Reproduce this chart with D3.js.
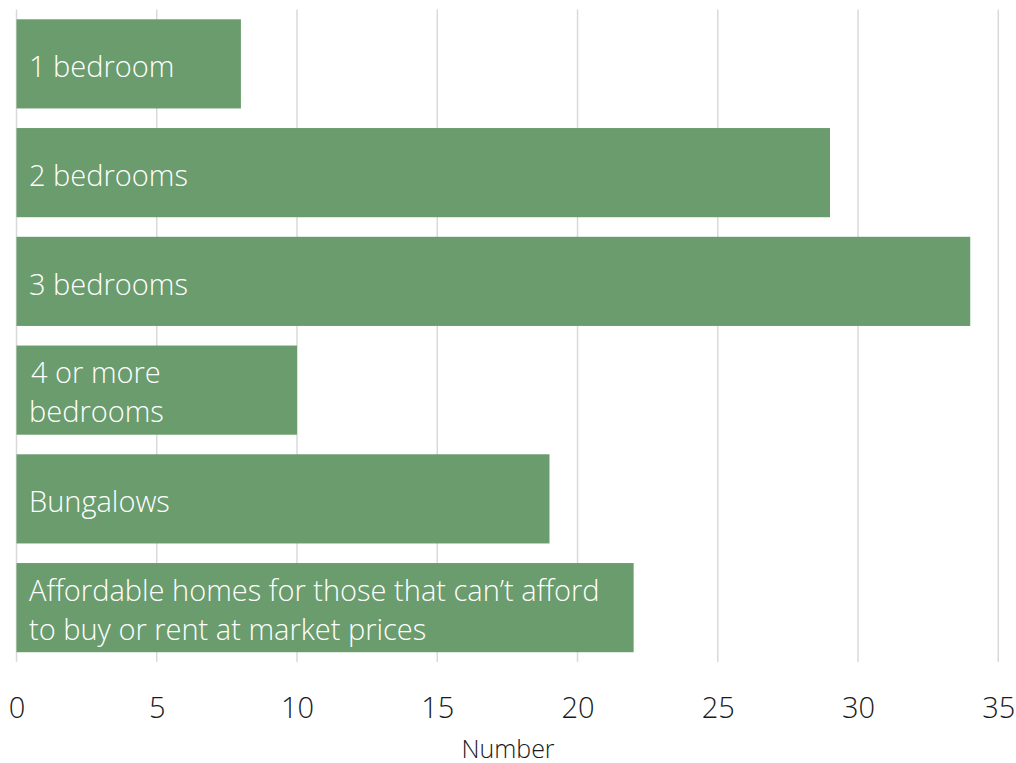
<!DOCTYPE html>
<html>
<head>
<meta charset="utf-8">
<script src="https://cdn.jsdelivr.net/npm/d3@7"></script>
<style>
  html, body { margin: 0; padding: 0; background: #fff; }
  svg { display: block; font-family: "Open Sans", Lato, sans-serif; }
</style>
</head>
<body>
<svg id="chart" width="1016" height="763"></svg>
<script>
// Housing types needed (number of homes)
const categories = [
  ["1 bedroom"],
  ["2 bedrooms"],
  ["3 bedrooms"],
  ["4 or more", "bedrooms"],
  ["Bungalows"],
  ["Affordable homes for those that can\u2019t afford", "to buy or rent at market prices"]
];
const values = [8, 29, 34, 10, 19, 22];
const xTicks = [0, 5, 10, 15, 20, 25, 30, 35];
const xTitle = "Number";

(function draw() {
  const svg = d3.select("#chart");
  const plotLeft = 16.5, plotRight = 998.3, plotTop = 9.5, plotBottom = 662;

  const x = d3.scaleLinear().domain([0, 35]).range([plotLeft, plotRight]);
  const y = d3.scaleBand()
    .domain(d3.range(categories.length))
    .range([plotTop, plotBottom])
    .paddingInner(0.18)
    .paddingOuter(0.09);

  // vertical gridlines
  svg.append("g")
    .selectAll("line")
    .data(xTicks)
    .join("line")
    .attr("x1", d => x(d)).attr("x2", d => x(d))
    .attr("y1", plotTop).attr("y2", plotBottom)
    .attr("stroke", "#d9d9d9")
    .attr("stroke-width", 1.5);

  // bars
  svg.append("g")
    .selectAll("rect")
    .data(values)
    .join("rect")
    .attr("x", x(0))
    .attr("y", (d, i) => y(i))
    .attr("width", d => x(d) - x(0))
    .attr("height", y.bandwidth())
    .attr("fill", "#6a9c6d");

  // category labels inside bars
  const lineH = 39;
  const labels = svg.append("g")
    .selectAll("text")
    .data(categories)
    .join("text")
    .attr("fill", "#ffffff")
    .attr("font-size", 29)
    .attr("font-weight", 300);
  labels.each(function(lines, i) {
    const cy = y(i) + y.bandwidth() / 2;
    const base0 = cy + 13.5 - (lines.length - 1) * (lineH / 2 + 1);
    d3.select(this).selectAll("tspan")
      .data(lines)
      .join("tspan")
      .attr("x", (l, j) => (i === 3 && j === 0) ? 31 : 29)
      .attr("y", (l, j) => base0 + j * lineH)
      .text(l => l);
  });

  // x axis tick labels
  const axis = d3.axisBottom(x).tickValues(xTicks).tickSize(0).tickPadding(0);
  const ax = svg.append("g")
    .attr("transform", `translate(0, ${plotBottom})`)
    .call(axis);
  ax.select(".domain").remove();
  ax.selectAll("text")
    .attr("font-size", 29)
    .attr("font-weight", 300)
    .attr("font-family", "'Open Sans', Lato, sans-serif")
    .attr("fill", "#1a1a1a")
    .attr("dy", null)
    .attr("y", 718.3 - plotBottom);

  // axis title
  svg.append("text")
    .attr("x", 508)
    .attr("y", 757.5)
    .attr("text-anchor", "middle")
    .attr("font-size", 25)
    .attr("font-weight", 300)
    .attr("fill", "#1a1a1a")
    .text(xTitle);
})();
</script>
</body>
</html>
